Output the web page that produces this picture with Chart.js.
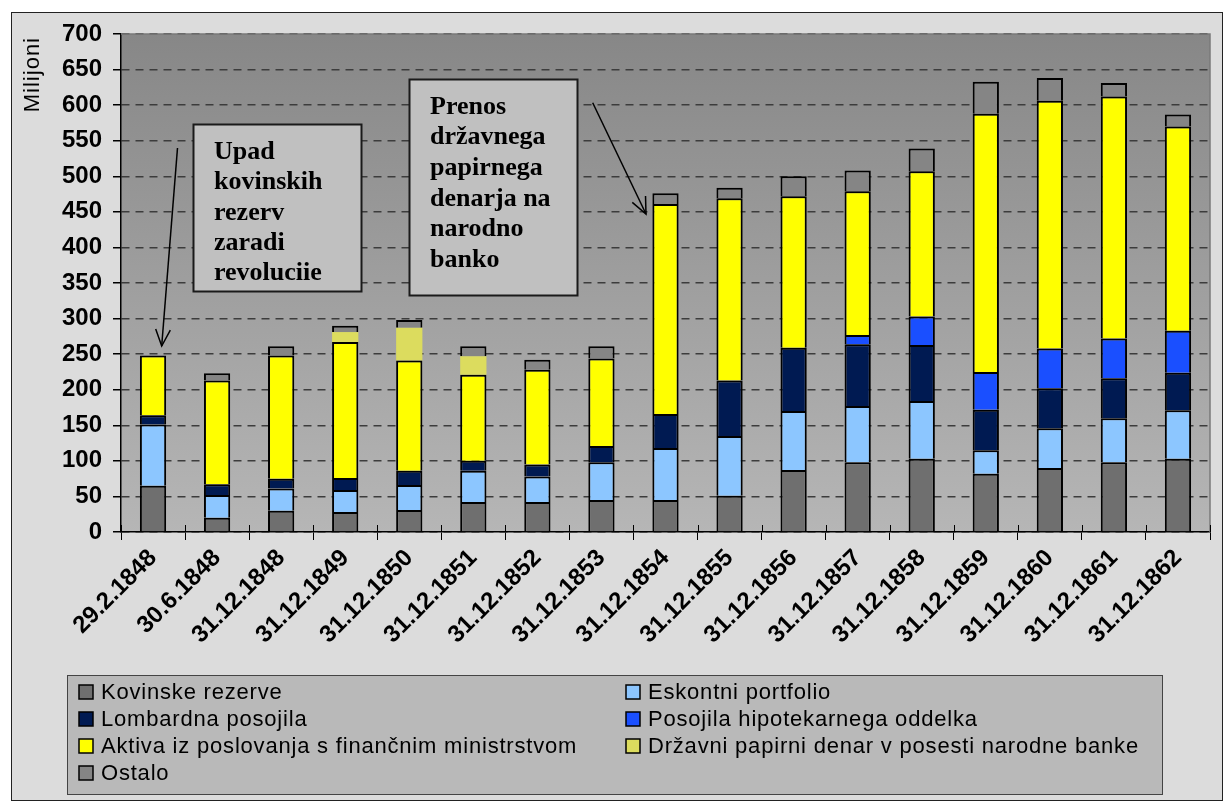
<!DOCTYPE html>
<html><head><meta charset="utf-8">
<script src="https://cdn.jsdelivr.net/npm/chart.js@4.4.0/dist/chart.umd.min.js"></script>
<style>html,body{margin:0;padding:0;background:#fff;}#wrap{width:1225px;height:803px;}</style>
</head><body><div id="wrap"><canvas id="c" width="1225" height="803"></canvas></div>
<script>
const categories = ['29.2.1848','30.6.1848','31.12.1848','31.12.1849','31.12.1850','31.12.1851','31.12.1852','31.12.1853','31.12.1854','31.12.1855','31.12.1856','31.12.1857','31.12.1858','31.12.1859','31.12.1860','31.12.1861','31.12.1862'];
const kovinskeRezerve = [65, 20, 30, 28, 31, 42, 42, 45, 45, 51, 87, 98, 103, 82, 90, 98, 103];
const eskontniPortfolio = [86, 32, 31, 31, 35, 44, 36, 53, 73, 84, 83, 79, 81, 33, 56, 62, 68];
const lombardnaPosojila = [13, 15, 14, 17, 20, 14, 17, 23, 48, 78, 89, 87, 79, 57, 56, 56, 53];
const posojilaHipotekarnega = [null, null, null, null, null, null, null, null, null, null, null, 13, 40, 53, 56, 56, 59];
const aktivaFinMinistrstvo = [84, 146, 173, 191, 155, 121, 133, 123, 295, 256, 213, 202, 204, 363, 348, 340, 287];
const drzavniPapirniDenar = [null, null, null, 14, 46, 26, null, null, null, null, null, null, null, null, null, null, null];
const ostalo = [null, 10, 13, 9, 11, 14, 14, 17, 15, 15, 28, 29, 32, 45, 32, 19, 17];
const seriesNames = ['Kovinske rezerve','Eskontni portfolio','Lombardna posojila','Posojila hipotekarnega oddelka','Aktiva iz poslovanja s finančnim ministrstvom','Državni papirni denar v posesti narodne banke','Ostalo'];
const seriesColors = ['#6f6f6f','#8cc6ff','#001a52','#1a4fff','#ffff00','#dcdc5e','#858585'];
const yAxisTitle = 'Milijoni';
const note1 = ['Upad','kovinskih','rezerv','zaradi','revoluciie'];
const note2 = ['Prenos','državnega','papirnega','denarja na','narodno','banko'];

const seriesData = [kovinskeRezerve, eskontniPortfolio, lombardnaPosojila, posojilaHipotekarnega, aktivaFinMinistrstvo, drzavniPapirniDenar, ostalo];
const datasets = seriesData.map((d, i) => ({
  label: seriesNames[i], data: d, backgroundColor: seriesColors[i],
  borderColor: '#000', borderWidth: i === 5 ? 0 : 2,
  categoryPercentage: 1, barPercentage: 0.41
}));

function arrow(ctx, x1, y1, x2, y2) {
  ctx.save();
  ctx.strokeStyle = '#000'; ctx.lineWidth = 1.5;
  ctx.beginPath(); ctx.moveTo(x1, y1); ctx.lineTo(x2, y2); ctx.stroke();
  const a = Math.atan2(y2 - y1, x2 - x1), L = 18, w = 0.42;
  ctx.beginPath();
  ctx.moveTo(x2 - L * Math.cos(a - w), y2 - L * Math.sin(a - w));
  ctx.lineTo(x2, y2);
  ctx.lineTo(x2 - L * Math.cos(a + w), y2 - L * Math.sin(a + w));
  ctx.stroke();
  ctx.restore();
}
function noteBox(ctx, x, y, w, h, lines, tx, ty, lh) {
  ctx.save();
  ctx.fillStyle = '#c0c0c0'; ctx.fillRect(x, y, w, h);
  ctx.strokeStyle = '#1a1a1a'; ctx.lineWidth = 2; ctx.strokeRect(x, y, w, h);
  ctx.fillStyle = '#000'; ctx.font = 'bold 26px "Liberation Serif", "Times New Roman", serif';
  ctx.textBaseline = 'middle'; ctx.textAlign = 'left';
  lines.forEach((t, i) => ctx.fillText(t, tx, ty + i * lh));
  ctx.restore();
}

const decor = {
  id: 'decor',
  beforeDraw(chart) {
    const ctx = chart.ctx, a = chart.chartArea;
    ctx.save();
    ctx.fillStyle = '#fff'; ctx.fillRect(0, 0, chart.width, chart.height);
    ctx.fillStyle = '#dcdcdc'; ctx.fillRect(11, 12, 1211, 788);
    ctx.strokeStyle = '#222'; ctx.lineWidth = 1; ctx.strokeRect(11.5, 12.5, 1211, 788);
    const g = ctx.createLinearGradient(0, a.top, 0, a.bottom);
    g.addColorStop(0, '#878787'); g.addColorStop(1, '#b6b6b6');
    ctx.fillStyle = g; ctx.fillRect(a.left, a.top, a.right - a.left, a.bottom - a.top);
    ctx.restore();
  },
  afterDraw(chart) {
    const ctx = chart.ctx, a = chart.chartArea, xs = chart.scales.x;
    ctx.save();
    ctx.strokeStyle = '#7a7a7a'; ctx.lineWidth = 1.5;
    ctx.beginPath(); ctx.moveTo(a.left, a.top); ctx.lineTo(a.right, a.top); ctx.lineTo(a.right, a.bottom); ctx.stroke();
    // category boundary ticks crossing the axis
    ctx.strokeStyle = '#000'; ctx.lineWidth = 1;
    for (let i = 0; i <= categories.length; i++) {
      const px = Math.round(xs.getPixelForValue(i - 0.5)) + 0.5;
      ctx.beginPath(); ctx.moveTo(px, a.bottom - 7); ctx.lineTo(px, a.bottom); ctx.stroke();
    }
    // y axis title
    ctx.fillStyle = '#000'; ctx.font = '22px "Liberation Sans", Arial, sans-serif';
    ctx.letterSpacing = '1px';
    ctx.translate(33, 37); ctx.rotate(-Math.PI / 2);
    ctx.textAlign = 'right'; ctx.textBaseline = 'middle';
    ctx.fillText(yAxisTitle, 0, 0);
    ctx.restore();

    noteBox(ctx, 193.5, 124.5, 168, 167, note1, 214, 152, 30.4);
    noteBox(ctx, 409.5, 79.5, 168, 216, note2, 430, 107, 30.6);
    arrow(ctx, 177.5, 148, 161.7, 346);
    arrow(ctx, 592.7, 102.7, 646, 214);

    // legend
    ctx.save();
    ctx.fillStyle = '#b9b9b9'; ctx.fillRect(67, 675, 1095, 119);
    ctx.strokeStyle = '#444'; ctx.lineWidth = 1; ctx.strokeRect(67.5, 675.5, 1095, 119);
    ctx.font = '22px "Liberation Sans", Arial, sans-serif';
    ctx.letterSpacing = '0.8px';
    ctx.textBaseline = 'middle'; ctx.textAlign = 'left';
    chart.data.datasets.forEach((ds, i) => {
      const col = i % 2, row = Math.floor(i / 2);
      const sx = col ? 626 : 79, cy = 692 + row * 27;
      ctx.fillStyle = ds.backgroundColor; ctx.fillRect(sx, cy - 7, 14, 14);
      ctx.strokeStyle = '#000'; ctx.lineWidth = 1.5; ctx.strokeRect(sx, cy - 7, 14, 14);
      ctx.fillStyle = '#000'; ctx.fillText(ds.label, sx + 22, cy + 1);
    });
    ctx.restore();
  }
};

Chart.defaults.font.family = '"Liberation Sans", Arial, sans-serif';
new Chart(document.getElementById('c'), {
  type: 'bar',
  data: { labels: categories, datasets },
  plugins: [decor],
  options: {
    responsive: false, animation: false, devicePixelRatio: 1,
    layout: { padding: { top: 34, right: 15, bottom: 0, left: 0 } },
    plugins: { legend: { display: false }, tooltip: { enabled: false } },
    scales: {
      x: {
        stacked: true, offset: true,
        grid: { display: true, drawOnChartArea: false, drawTicks: true, tickLength: 8, color: '#000', offset: true },
        border: { display: true, color: '#000', width: 1.5 },
        ticks: { font: { size: 24, weight: 'bold' }, color: '#000', minRotation: 45, maxRotation: 45, autoSkip: false, padding: 4 },
        afterFit: s => { s.height = 271; }
      },
      y: {
        stacked: true, min: 0, max: 700,
        grid: { color: '#3c3c3c', lineWidth: 1.5, tickColor: '#000', tickLength: 8, drawTicks: true },
        border: { display: true, color: '#000', width: 1.5, dash: [8, 6] },
        ticks: { stepSize: 50, font: { size: 24, weight: 'bold' }, color: '#000', padding: 11 },
        afterFit: s => { s.width = 121; }
      }
    }
  }
});
</script>
</body></html>
